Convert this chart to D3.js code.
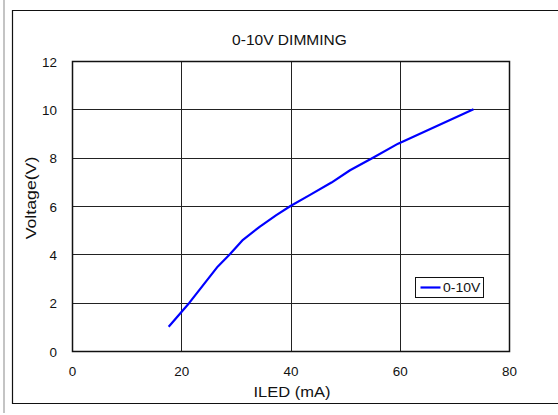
<!DOCTYPE html>
<html>
<head>
<meta charset="utf-8">
<script src="https://cdn.jsdelivr.net/npm/d3@7"></script>
<style>
  body { margin: 0; background: #fff; }
  text { font-family: "Liberation Sans", Arial, sans-serif; fill: #111; }
</style>
</head>
<body>
<div id="chart"></div>
<script>
// data
const iled = [17.7, 21.5, 26.7, 28.9, 31.3, 34.4, 37.4, 40.0, 43.5, 47.5, 50.9, 55.1, 59.7, 73.5];
const volts = [1.0, 2.0, 3.5, 4.0, 4.6, 5.15, 5.62, 6.0, 6.45, 6.97, 7.48, 8.0, 8.58, 10.0];
const xTicks = [0, 20, 40, 60, 80];
const yTicks = [0, 2, 4, 6, 8, 10, 12];
const seriesName = "0-10V";

const width = 558, height = 415;
const margin = { top: 61, right: 49, bottom: 64, left: 72 };

const svg = d3.select("#chart")
    .append("svg")
    .attr("width", width)
    .attr("height", height);

// the source font renders wider than Liberation Sans, so stretch glyphs a little
function label(g, px, py, txt, size, sx, anchor, rot) {
    return g.append("text")
        .attr("transform", "translate(" + px + "," + py + ")" + (rot ? " rotate(" + rot + ")" : "") + " scale(" + sx + ",1)")
        .attr("text-anchor", anchor)
        .attr("font-size", size)
        .text(txt);
}

// page frame
svg.append("rect")
    .attr("x", 3).attr("y", 0).attr("width", 2).attr("height", 413)
    .attr("fill", "#c4c4c4");
svg.append("path")
    .attr("d", "M558,10.5H12.5V403.5H558")
    .attr("fill", "none").attr("stroke", "#111").attr("stroke-width", 1.2);

const x = d3.scaleLinear().domain([0, 80]).range([margin.left, width - margin.right]);
const y = d3.scaleLinear().domain([0, 12]).range([height - margin.bottom, margin.top]);

// grid
svg.append("g")
    .selectAll("line.gx")
    .data(xTicks)
    .enter().append("line")
    .attr("x1", d => Math.round(x(d)) + 0.5).attr("x2", d => Math.round(x(d)) + 0.5)
    .attr("y1", y(12)).attr("y2", y(0))
    .attr("stroke", "#222").attr("stroke-width", 1);

svg.append("g")
    .selectAll("line.gy")
    .data(yTicks)
    .enter().append("line")
    .attr("x1", x(0)).attr("x2", x(80))
    .attr("y1", d => Math.round(y(d)) + 0.5).attr("y2", d => Math.round(y(d)) + 0.5)
    .attr("stroke", "#222").attr("stroke-width", 1);

// plot border
svg.append("rect")
    .attr("x", Math.round(x(0)) + 0.5).attr("y", Math.round(y(12)) + 0.5)
    .attr("width", Math.round(x(80)) - Math.round(x(0)))
    .attr("height", Math.round(y(0)) - Math.round(y(12)))
    .attr("fill", "none").attr("stroke", "#111").attr("stroke-width", 1.5);

// tick labels
const tickG = svg.append("g");
xTicks.forEach(d => label(tickG, x(d) + 0.5, y(0) + 24.5, d, 12, 1.12, "middle"));
yTicks.forEach(d => label(tickG, x(0) - 15, y(d) + 5.5, d, 12, 1.12, "end"));

// titles
label(svg, 289.5, 45, "0-10V DIMMING", 14, 1.11, "middle");
label(svg, 292, 397, "ILED (mA)", 15, 1.1, "middle");
label(svg, 36, 198, "Voltage(V)", 15, 1.18, "middle", -90);

// curve
const line = d3.line()
    .x((d, i) => x(iled[i]))
    .y(d => y(d));

svg.append("path")
    .datum(volts)
    .attr("d", line)
    .attr("fill", "none")
    .attr("stroke", "#0000ff")
    .attr("stroke-width", 2.2)
    .attr("stroke-linejoin", "round");

// legend
const lg = svg.append("g").attr("transform", "translate(415.5,277.5)");
lg.append("rect")
    .attr("width", 68).attr("height", 20)
    .attr("fill", "#fff").attr("stroke", "#111").attr("stroke-width", 1);
lg.append("line")
    .attr("x1", 5).attr("x2", 25).attr("y1", 10).attr("y2", 10)
    .attr("stroke", "#0000ff").attr("stroke-width", 2.2);
label(lg, 27.5, 14.5, seriesName, 12.5, 1.12, "start");
</script>
</body>
</html>
